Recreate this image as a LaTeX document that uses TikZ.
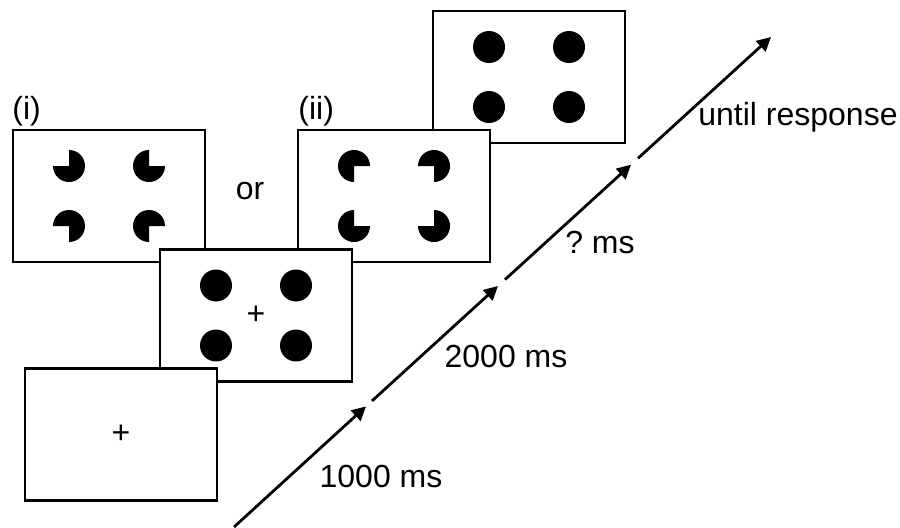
\documentclass[tikz,border=0pt]{standalone}
\usepackage{fontspec}
\setmainfont{Liberation Sans}
\usetikzlibrary{arrows.meta}

\begin{document}
\begin{tikzpicture}
		[x=0.5pt, y=0.5pt,
		 font=\fontsize{16}{19}\selectfont,
		 screen/.style={rectangle, draw, line width=1.3pt, fill=white, minimum width=96pt, minimum height=66pt, inner sep=0pt},
		 disc/.style={circle, fill, minimum size=16pt, inner sep=0pt},
		 timeline/.style={line width=1.4pt, -{Triangle[length=7pt, width=7pt]}},
		 caption/.style={inner sep=0pt}]
		\useasboundingbox (0,0) rectangle (900,527);
		\def\dx{40}
		\def\dy{30}
			% screens from back to front
			\node[screen] (probe) at (529,450) {};
			\foreach \sx/\sy in {-1/1, 1/1, -1/-1, 1/-1}{
				\node[disc] (probe\sx\sy) at ([shift={(\sx*\dx,\sy*\dy)}]probe.center) {};
			}
			\node[screen] (indA) at (109,331) {};
			\foreach \sx/\sy/\a in {-1/1/180, 1/1/90, -1/-1/270, 1/-1/0}{
				\fill ([shift={(\sx*\dx,\sy*\dy)}]indA.center) -- ++(\a:8pt) arc[start angle=\a, delta angle=270, radius=8pt] -- cycle;
			}
			\node[screen] (indB) at (394,331) {};
			\foreach \sx/\sy/\a in {-1/1/0, 1/1/270, -1/-1/90, 1/-1/180}{
				\fill ([shift={(\sx*\dx,\sy*\dy)}]indB.center) -- ++(\a:8pt) arc[start angle=\a, delta angle=270, radius=8pt] -- cycle;
			}
			\node[screen] (cue) at (256,211.5) {+};
			\foreach \sx/\sy in {-1/1, 1/1, -1/-1, 1/-1}{
				\node[disc] (cue\sx\sy) at ([shift={(\sx*\dx,\sy*\dy)}]cue.center) {};
			}
			\node[screen] (fix) at (121,92.5) {+};

			\node[caption, anchor=base west] (labA) at (12,408) {(i)};
			\node[caption, anchor=base west] (labB) at (298,408) {(ii)};
			\node[caption, anchor=base] (or) at (250,328) {or};

			% time axis
			\coordinate (t0) at (234,0);
			\coordinate (h1) at (366,120.6);
			\coordinate (t1) at (372,126.1);
			\coordinate (h2) at (498,241);
			\coordinate (t2) at (505,247.4);
			\coordinate (h3) at (631,362.3);
			\coordinate (t3) at (638,368.7);
			\coordinate (h4) at (771,490);
			\foreach \a/\b in {t0/h1, t1/h2, t2/h3, t3/h4}{
				\draw[timeline] (\a) -- (\b);
			}
			\node[caption, anchor=base] (dur1) at (381,40) {1000 ms};
			\node[caption, anchor=base] (dur2) at (506,160) {2000 ms};
			\node[caption, anchor=base] (dur3) at (600,274) {?\ ms};
			\node[caption, anchor=base west] (dur4) at (698,402) {until response};
		\end{tikzpicture}
\end{document}
